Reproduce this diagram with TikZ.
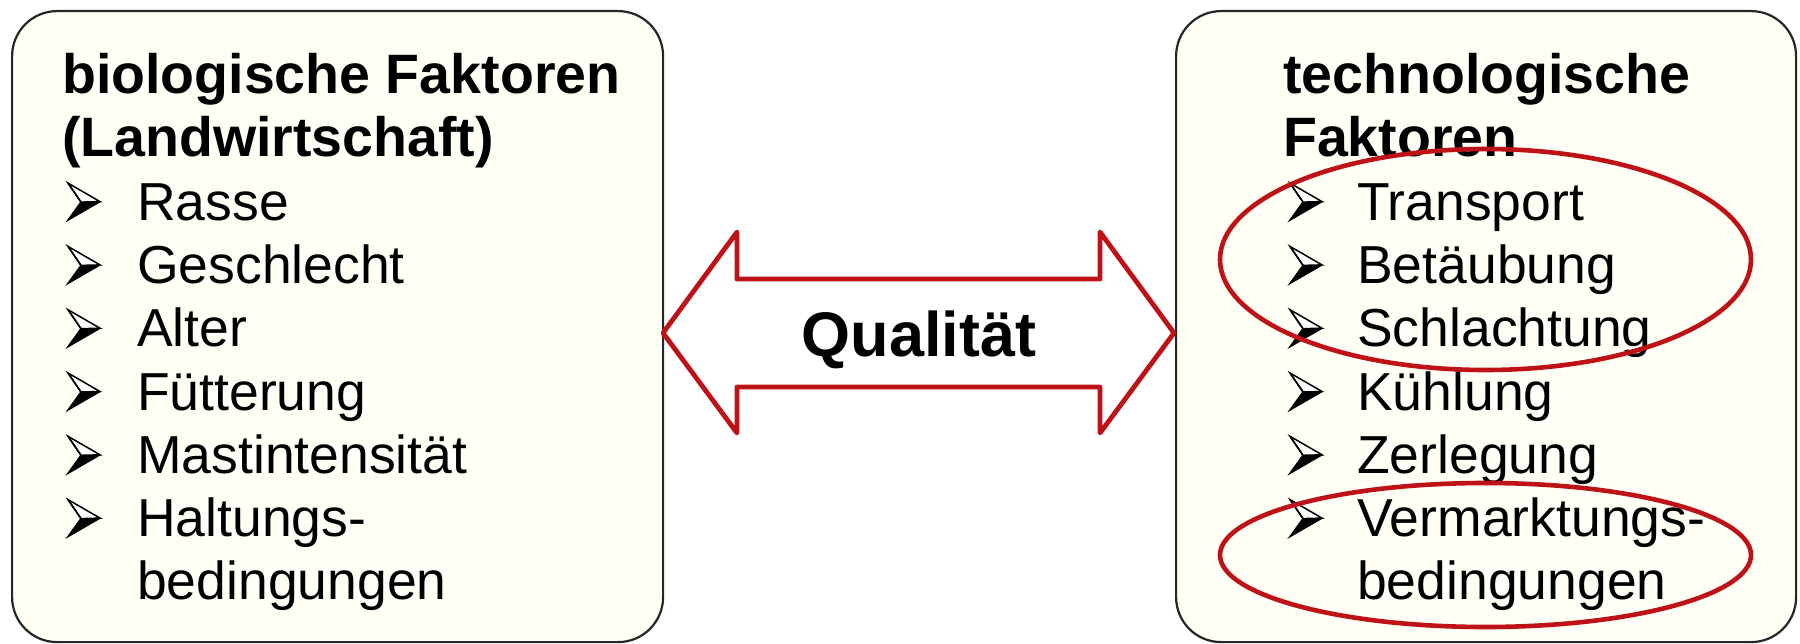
\documentclass[tikz,border=0pt]{standalone}
\usepackage{fontspec}
\setmainfont{Liberation Sans}
\definecolor{boxfill}{RGB}{255,255,246}
\definecolor{dred}{RGB}{190,18,22}
\tikzset{
  panel/.style={draw=black!85, line width=2.2pt, fill=boxfill, rounded corners=45pt, inner sep=0pt, anchor=north west},
  titletxt/.style={font=\fontsize{55.5}{66}\selectfont\bfseries, anchor=base west, inner sep=0pt},
  itemtxt/.style={font=\fontsize{53.5}{64}\selectfont, anchor=base west, inner sep=0pt},
  qualtxt/.style={font=\fontsize{63}{75}\selectfont\bfseries, anchor=base, inner sep=0pt},
  ringline/.style={draw=dred, line width=4.6pt},
  bul/.pic={
    \fill[black] (13,-18) -- (32,-18.5) -- (0,0) -- cycle;
    \draw[black, line width=1.5pt, line join=miter, fill=white] (0,-37) -- (32,-18.5) -- (13,-18) -- cycle;
    \draw[black, line width=1.5pt, line join=miter] (0,-37) -- (13,-18) -- (0,0) -- (32,-18.5);
  }
}
\begin{document}
\begin{tikzpicture}[x=1pt,y=-1pt]
\useasboundingbox (0,0) rectangle (1800,644);
\fill[white] (0,0) rectangle (1800,644);
% panels
\node[panel, minimum width=651pt, minimum height=631pt] (lbox) at (11,10) {};
\node[panel, minimum width=620pt, minimum height=631pt] (rbox) at (1175,10) {};
% double arrow
\draw[dred, line width=4.8pt, line join=round, fill=white]
  (663,333) -- (737,232) -- (737,279) -- (1100,279) -- (1100,232) -- (1174,333)
  -- (1100,433) -- (1100,387) -- (737,387) -- (737,433) -- cycle;
\node[qualtxt] (qual) at (919,356) {Qualität};
% left panel text
\node[titletxt] (lt1) at (62,93.5) {biologische Faktoren};
\node[titletxt] (lt2) at (62,156.8) {(Landwirtschaft)};
\foreach \t [count=\i] in {Rasse,Geschlecht,Alter,Fütterung,Mastintensität,Haltungs-}{
  \pic at (68,{93.5+63.3*(\i+1)}) {bul};
  \node[itemtxt] (li\i) at (137,{93.5+63.3*(\i+1)}) {\t};
}
\node[itemtxt] (li7) at (137,{93.5+63.3*8}) {bedingungen};
% right panel text
\node[titletxt] (rt1) at (1283,93.5) {technologische};
\node[titletxt] (rt2) at (1283,156.8) {Faktoren};
\foreach \t [count=\i] in {Transport,Betäubung,Schlachtung,Kühlung,Zerlegung,Vermarktungs-}{
  \pic at (1290,{93.5+63.3*(\i+1)}) {bul};
  \node[itemtxt] (ri\i) at (1357,{93.5+63.3*(\i+1)}) {\t};
}
\node[itemtxt] (ri7) at (1357,{93.5+63.3*8}) {bedingungen};
% highlight rings
\draw[ringline] (1485.5,259.5) ellipse [x radius=265.5pt, y radius=110.5pt];
\draw[ringline] (1485.5,555) ellipse [x radius=265.5pt, y radius=72pt];
\end{tikzpicture}
\end{document}
